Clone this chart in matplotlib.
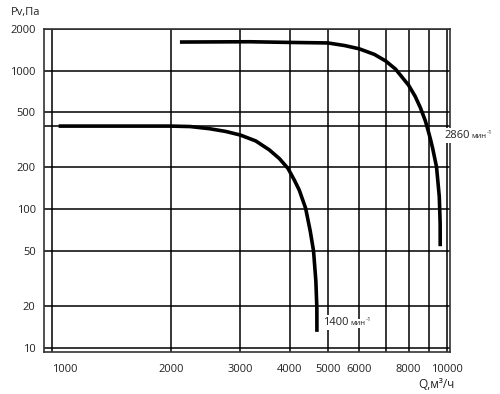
import matplotlib
matplotlib.use('Agg')
import matplotlib.pyplot as plt
from matplotlib.ticker import FixedLocator, NullFormatter

plt.rcParams['font.family'] = ['Open Sans', 'DejaVu Sans']

# curve 1400 1/min
q_1400 = [1040, 2000, 2240, 2508, 2757, 3000, 3282, 3553, 3767, 3961, 4112, 4232, 4390, 4510, 4598, 4661, 4688, 4690]
p_1400 = [398, 398, 395, 381, 364, 343, 311, 268, 232, 197, 162, 137, 101.7, 69.6, 50, 30.3, 19.4, 13]

# curve 2860 1/min
q_2860 = [2110, 3170, 4000, 5000, 5518, 6000, 6557, 7000, 7414, 7700, 8000, 8316, 8570, 8824,
          9000, 9100, 9207, 9420, 9573, 9621, 9625]
p_2860 = [1610, 1618, 1600, 1586, 1518, 1439, 1311, 1176, 1028, 900, 787, 653, 542, 435,
          357, 317, 276, 202, 123, 79, 54]

x_ticks = [1000, 2000, 3000, 4000, 5000, 6000, 8000, 10000]
x_grid_extra = [7000, 9000]
y_ticks = [10, 20, 50, 100, 200, 500, 1000, 2000]
y_grid_extra = [400]

fig = plt.figure(figsize=(5, 3.94), dpi=100)
ax = fig.add_axes([44/500, 1 - 352/394, 406/500, 323/394])
ax.set_xscale('log')
ax.set_yscale('log')
ax.set_xlim(955, 10190)
ax.set_ylim(9.3, 2000)

ax.xaxis.set_major_locator(FixedLocator(x_ticks))
ax.xaxis.set_minor_locator(FixedLocator(x_grid_extra))
ax.yaxis.set_major_locator(FixedLocator(y_ticks))
ax.yaxis.set_minor_locator(FixedLocator(y_grid_extra))
ax.set_xticklabels([str(v) for v in x_ticks])
ax.set_yticklabels([str(v) for v in y_ticks])
ax.xaxis.set_minor_formatter(NullFormatter())
ax.yaxis.set_minor_formatter(NullFormatter())
ax.tick_params(which='both', length=0, labelsize=8, colors='#222222')
ax.tick_params(axis='x', pad=9)
ax.tick_params(axis='y', pad=6)
ax.get_xticklabels()[0].set_horizontalalignment('left')
ax.grid(True, which='both', color='black', linewidth=1.1)
for s in ax.spines.values():
    s.set_linewidth(1.2)
    s.set_color('#333333')

ax.plot(q_1400, p_1400, color='black', linewidth=2.6, solid_capstyle='butt', zorder=3)
ax.plot(q_2860, p_2860, color='black', linewidth=2.6, solid_capstyle='butt', zorder=3)


# speed labels: number, "мин" and a small raised "-1"
def speed_label(x, y, num):
    fig.text(x, y, num, fontsize=8, color='#222222', va='baseline', ha='left', zorder=5,
             bbox=dict(facecolor='white', edgecolor='none', pad=1.5))
    fig.text(x + 27/500, y, 'мин', fontsize=5.5, color='#222222', va='baseline', ha='left', zorder=5,
             bbox=dict(facecolor='white', edgecolor='none', pad=1.0))
    fig.text(x + 43/500, y + 4/394, '-1', fontsize=4.5, color='#222222', va='baseline', ha='left', zorder=6)


speed_label(444/500, 1 - 138/394, '2860')
speed_label(323/500, 1 - 325/394, '1400')

fig.text(11/500, 1 - 13/394, 'Pv,Па', fontsize=8, color='#222222', va='center', ha='left')
fig.text(418/500, 1 - 384/394, 'Q,м³/ч', fontsize=8.5, color='#222222', va='center', ha='left')

fig.savefig('out.png', dpi=100)
